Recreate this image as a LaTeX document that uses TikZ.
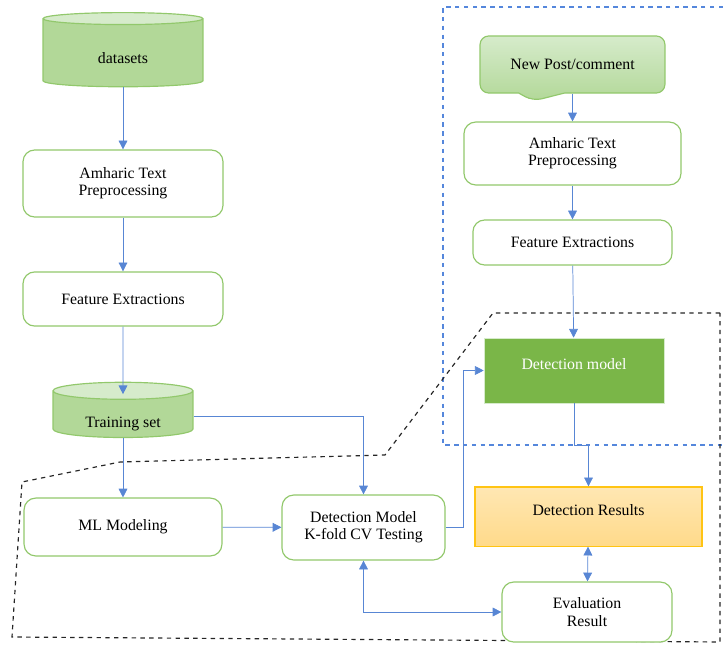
\documentclass[tikz,border=0pt]{standalone}
\usepackage{fontspec}
\setmainfont{Liberation Serif}
\usepackage{tikz}
\usetikzlibrary{arrows.meta, shapes.geometric, shapes.callouts, positioning}

\definecolor{lineblue}{RGB}{88,134,212}
\definecolor{dashblue}{RGB}{85,135,220}
\definecolor{boxgreen}{RGB}{146,200,108}
\definecolor{cylbody}{RGB}{178,216,152}
\definecolor{cyltop}{RGB}{214,235,203}
\definecolor{darkgreen}{RGB}{122,182,72}
\definecolor{resfill}{RGB}{255,218,138}
\definecolor{resborder}{RGB}{255,196,20}

\begin{document}
\begin{tikzpicture}[x=0.024cm, y=-0.024cm,
    every node/.style={font=\rmfamily\fontsize{10.8}{11.8}\selectfont, align=center},
    roundbox/.style={draw=boxgreen, line width=0.8pt, rounded corners=8pt, fill=white},
    store/.style={cylinder, shape border rotate=90, aspect=0.2, draw=boxgreen,
        line width=0.8pt, cylinder uses custom fill, cylinder body fill=cylbody,
        cylinder end fill=cyltop, inner ysep=1pt},
    flow/.style={draw=lineblue, line width=0.5pt, -{Triangle[length=6pt,width=6pt]}},
    twoway/.style={draw=lineblue, line width=0.5pt, {Triangle[length=6pt,width=6pt]}-{Triangle[length=6pt,width=6pt]}}]
    \useasboundingbox (0,0) rectangle (723,645);

    % Regions
    \draw[draw=dashblue, dashed, line width=0.7pt] (723,7) -- (443,7) -- (443,445) -- (723,445);
    \draw[black!85, dashed, line width=0.8pt] (720,313) -- (493,313) -- (385,455) -- (120,462)
        -- (22,482) -- (12,637) -- (720,642) -- cycle;

    % Training side
    \node[store, minimum width=3.84cm, minimum height=1.78cm, text height=15pt, text depth=2pt] (data) at (123,54) {datasets};
    \node[roundbox, minimum width=4.8cm, minimum height=1.61cm] (prepL) at (123,183.5) {Amharic Text\\Preprocessing};
    \node[roundbox, minimum width=4.8cm, minimum height=1.3cm] (featL) at (123,299) {Feature Extractions};
    \node[store, minimum width=3.36cm, minimum height=1.32cm, text height=18pt, text depth=2pt] (train) at (123,416) {Training set};
    \node[roundbox, minimum width=4.75cm, minimum height=1.39cm] (model) at (123,527) {ML Modeling};
    \node[roundbox, minimum width=3.91cm, minimum height=1.56cm] (test) at (363.5,527.5) {Detection Model\\K-fold CV Testing};

    % Detection side
    \node[rectangle callout, callout absolute pointer={(533,101)}, callout pointer width=1.1cm,
        rounded corners=6pt, draw=boxgreen, line width=0.8pt, top color=cyltop, bottom color=cylbody,
        minimum width=4.44cm, minimum height=1.37cm] (post) at (572.5,64.5) {New Post/comment};
    \node[roundbox, minimum width=5.21cm, minimum height=1.51cm] (prepR) at (572.5,153.5) {Amharic Text\\Preprocessing};
    \node[roundbox, minimum width=4.78cm, minimum height=1.08cm] (featR) at (572.5,242.5) {Feature Extractions};
    \node[fill=darkgreen, draw=cyltop, text=white, minimum width=4.32cm, minimum height=1.56cm,
        text height=7pt, text depth=8pt] (detect) at (574,370.5) {Detection model};
    \node[draw=resborder, line width=0.8pt, top color=resfill!65!white, bottom color=resfill,
        minimum width=5.45cm, minimum height=1.42cm, text height=7pt, text depth=8pt] (result) at (588.5,516.5) {Detection Results};
    \node[roundbox, minimum width=4.08cm, minimum height=1.44cm] (eval) at (587,612) {Evaluation\\Result};

    % Connectors
    \draw[flow] (data) -- (prepL);
    \draw[flow] (prepL) -- (featL);
    \draw[flow] (featL) -- ([yshift=-0.3cm]train.north);
    \draw[flow] (train) -- (model);
    \draw[flow] (train.east) -| (test.north);
    \draw[flow] (model) -- (test);
    \draw[flow] (test.east) -- ++(18,0) |- (detect.west);
    \draw[flow] (post.south) -- (prepR);
    \draw[flow] (prepR) -- (featR);
    \draw[flow] (featR) -- (detect);
    \draw[flow] (detect.south) -- ++(0,42) -| (result.north);
    \draw[twoway] (result) -- (eval);
    \draw[twoway] (test.south) |- (eval.west);

\end{tikzpicture}
\end{document}
